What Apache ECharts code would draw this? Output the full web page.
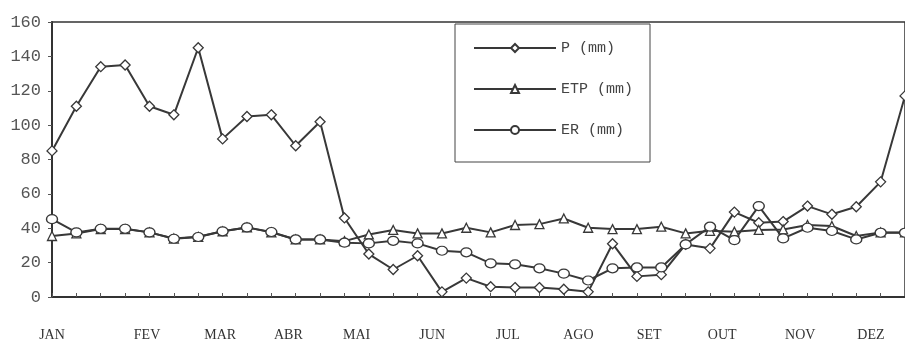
<!DOCTYPE html>
<html>
<head>
<meta charset="utf-8">
<script src="https://cdn.jsdelivr.net/npm/echarts@6/dist/echarts.min.js"></script>
<style>html,body{margin:0;padding:0;background:#fff;}#c{width:905px;height:342px;}</style>
</head>
<body>
<div id="c"></div>
<script>
// Decendial values (36 ten-day periods)
var P   = [85, 111, 134, 135, 111, 106, 145, 92, 105, 106, 88, 102, 46, 25, 16, 24, 3, 11, 6, 5.5, 5.5, 4.5, 3, 31, 12, 13, 30.6, 28.3, 49.4, 43.2, 43.9, 52.9, 48.1, 52.5, 67, 117];
var ETP = [35.5, 37, 39.5, 39.5, 37.6, 34, 35, 38.2, 40.5, 37.6, 33.5, 33.5, 32.5, 36.4, 39, 37, 37, 40.3, 37.6, 41.9, 42.4, 45.7, 40.3, 39.5, 39.5, 40.9, 37, 38.5, 38, 39, 39.3, 41.9, 41.3, 35.5, 37.6, 37.6];
var ER  = [45.3, 37.6, 39.7, 39.7, 37.6, 33.9, 34.9, 38.2, 40.5, 37.8, 33.5, 33.5, 31.6, 31.2, 32.7, 31.2, 26.9, 26, 19.6, 19, 16.7, 13.6, 9.6, 16.7, 17.2, 17.2, 30.6, 40.9, 33.1, 52.9, 34.1, 40.3, 38.4, 33.5, 37.4, 37.4];
var months   = ['JAN', 'FEV', 'MAR', 'ABR', 'MAI', 'JUN', 'JUL', 'AGO', 'SET', 'OUT', 'NOV', 'DEZ'];
var monthPos = [0, 3.9, 6.9, 9.7, 12.5, 15.6, 18.7, 21.6, 24.5, 27.5, 30.7, 33.6];
var names = ['P (mm)', 'ETP (mm)', 'ER (mm)'];

function pairs(arr) { return arr.map(function (v, i) { return [i, v]; }); }

var lineCol = '#383838';
function mkSeries(name, arr, symbol, size) {
  return {
    name: name, type: 'line', data: pairs(arr), symbol: symbol, symbolSize: size,
    showAllSymbol: true, clip: false,
    lineStyle: { color: lineCol, width: 2 },
    itemStyle: { color: '#fff', borderColor: lineCol, borderWidth: 1.3 }
  };
}

var chart = echarts.init(document.getElementById('c'));
chart.setOption({
  animation: false,
  backgroundColor: '#fff',
  grid: { left: 52, top: 22, width: 856, height: 275, show: true, borderColor: '#333', borderWidth: 1.5, backgroundColor: 'transparent' },
  legend: {
    orient: 'vertical', left: 455, top: 24,
    data: names,
    itemWidth: 82, itemHeight: 10, itemGap: 25,
    padding: [16, 17, 24, 18],
    borderColor: '#444', borderWidth: 1,
    textStyle: { fontFamily: 'Liberation Mono', fontSize: 15, color: '#444', lineHeight: 16 }
  },
  xAxis: [{
    type: 'value', min: 0, max: 35, interval: 1,
    axisLine: { show: true, lineStyle: { color: '#333', width: 2 } },
    axisTick: { show: true, inside: true, length: 4, lineStyle: { color: '#555' } },
    axisLabel: { show: false },
    splitLine: { show: false }
  }, {
    type: 'value', min: 0, max: 35, position: 'bottom',
    axisLine: { show: false }, axisTick: { show: false }, splitLine: { show: false },
    axisLabel: {
      customValues: monthPos, margin: 31,
      fontFamily: 'Liberation Serif', fontSize: 14, color: '#333',
      formatter: function (v) { var k = monthPos.indexOf(v); return k >= 0 ? months[k] : ''; }
    }
  }],
  yAxis: {
    type: 'value', min: 0, max: 160, interval: 20,
    axisLine: { show: true, lineStyle: { color: '#333', width: 2 } },
    axisTick: { show: true, length: 4, lineStyle: { color: '#555' } },
    axisLabel: { margin: 11, fontFamily: 'Liberation Mono', fontSize: 17, color: '#555' },
    splitLine: { show: false }
  },
  series: [
    mkSeries(names[0], P, 'diamond', 10),
    mkSeries(names[1], ETP, 'triangle', 9),
    mkSeries(names[2], ER, 'circle', [11, 9])
  ]
});
</script>
</body>
</html>
